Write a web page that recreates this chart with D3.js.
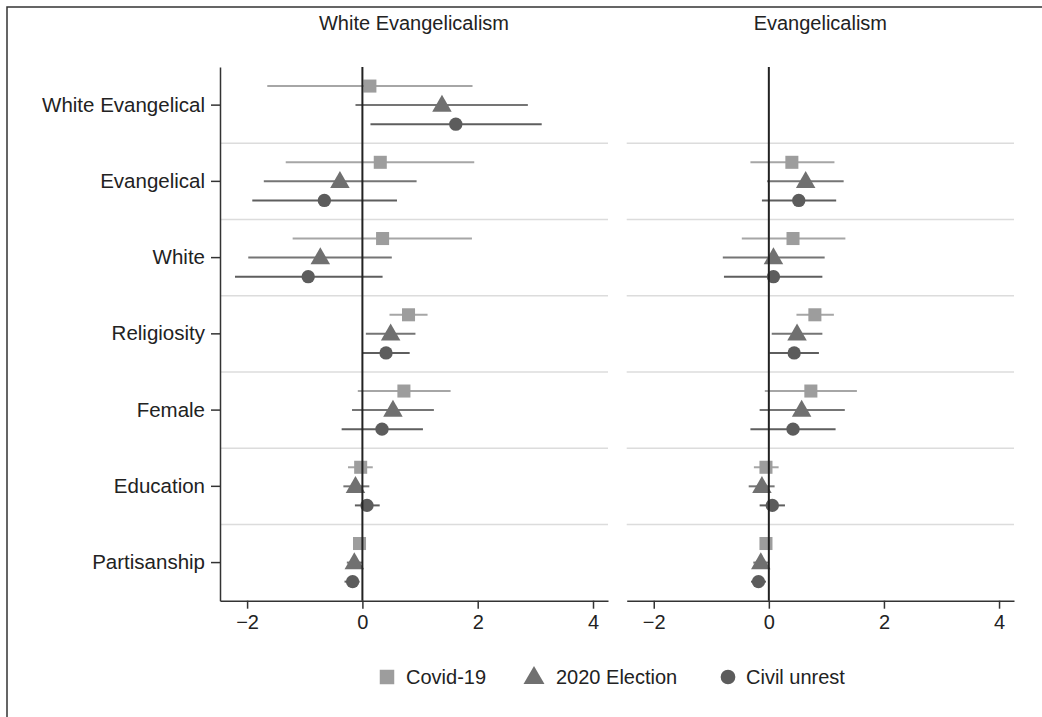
<!DOCTYPE html>
<html>
<head>
<meta charset="utf-8">
<script src="https://cdn.jsdelivr.net/npm/d3@7"></script>
<style>
  html, body { margin: 0; padding: 0; background: #fff; }
  svg { display: block; }
  text { font-family: "Liberation Sans", Arial, sans-serif; fill: #222; }
</style>
</head>
<body>
<svg id="chart" width="1042" height="717"></svg>
<script>
// Coefficient estimates with 95% intervals: [estimate, lower, upper]
const categories = ["White Evangelical", "Evangelical", "White", "Religiosity", "Female", "Education", "Partisanship"];
const seriesNames = ["Covid-19", "2020 Election", "Civil unrest"];
const panelTitles = ["White Evangelicalism", "Evangelicalism"];
const tickValues = [-2, 0, 2, 4];
const tickLabels = ["\u22122", "0", "2", "4"];

// Panel 1: White Evangelicalism
const weCovid = [[0.13, -1.65, 1.91], [0.31, -1.33, 1.94], [0.35, -1.21, 1.90], [0.80, 0.47, 1.13], [0.72, -0.08, 1.53], [-0.03, -0.25, 0.18], [-0.05, -0.14, 0.04]];
const weElection = [[1.38, -0.12, 2.87], [-0.39, -1.71, 0.94], [-0.73, -1.98, 0.51], [0.49, 0.06, 0.92], [0.53, -0.18, 1.24], [-0.12, -0.33, 0.12], [-0.14, -0.27, 0.00]];
const weUnrest = [[1.62, 0.14, 3.11], [-0.66, -1.91, 0.60], [-0.94, -2.21, 0.35], [0.41, 0.00, 0.82], [0.34, -0.36, 1.05], [0.08, -0.13, 0.30], [-0.17, -0.31, -0.05]];

// Panel 2: Evangelicalism (no White Evangelical term)
const evCovid = [null, [0.40, -0.32, 1.14], [0.42, -0.47, 1.33], [0.80, 0.48, 1.13], [0.73, -0.07, 1.53], [-0.05, -0.26, 0.17], [-0.05, -0.14, 0.05]];
const evElection = [null, [0.64, -0.03, 1.30], [0.08, -0.80, 0.97], [0.49, 0.05, 0.93], [0.57, -0.16, 1.32], [-0.12, -0.35, 0.10], [-0.14, -0.27, -0.01]];
const evUnrest = [null, [0.52, -0.12, 1.17], [0.08, -0.78, 0.93], [0.44, 0.01, 0.87], [0.42, -0.32, 1.16], [0.06, -0.16, 0.28], [-0.18, -0.31, -0.05]];

const panelData = [[weCovid, weElection, weUnrest], [evCovid, evElection, evUnrest]];

const markerFill = ["#9d9d9d", "#707070", "#5c5c5c"];
const lineColor = ["#a6a6a6", "#757575", "#5e5e5e"];
const markerType = [d3.symbolSquare, d3.symbolTriangle, d3.symbolCircle];
const markerSize = [170, 165, 140];
const offsets = [-0.25, 0, 0.25];

const svg = d3.select("#chart");

// frame
svg.append("path")
  .attr("d", "M7,717 V7 H1042")
  .attr("fill", "none").attr("stroke", "#333").attr("stroke-width", 1.5);

const plotTop = 67, plotBottom = 600.7;
const panelRanges = [[220, 608], [626.7, 1014]];
const xDomain = [-2.47, 4.26];

const y = d3.scaleBand().domain(categories).range([plotTop, plotBottom]).padding(0);
const bw = y.bandwidth();

panelRanges.forEach((range, p) => {
  const x = d3.scaleLinear().domain(xDomain).range(range);
  const g = svg.append("g");

  // horizontal separators between categories
  g.selectAll("line.sep").data(categories.slice(1)).join("line")
    .attr("class", "sep")
    .attr("x1", range[0]).attr("x2", range[1])
    .attr("y1", d => y(d)).attr("y2", d => y(d))
    .attr("stroke", "#dcdcdc").attr("stroke-width", 1.5);

  // x axis
  const xAxis = d3.axisBottom(x).tickValues(tickValues)
    .tickFormat((d, i) => tickLabels[i]).tickSizeInner(8).tickSizeOuter(0).tickPadding(6);
  const ax = g.append("g").attr("transform", `translate(0,${plotBottom})`).call(xAxis);
  ax.select(".domain").attr("stroke", "#333").attr("stroke-width", 1.5);
  ax.selectAll(".tick line").attr("stroke", "#333").attr("stroke-width", 1.5);
  ax.selectAll(".tick text").style("font-size", "20px").attr("fill", "#222")
    .style("font-family", "'Liberation Sans', Arial, sans-serif");

  // y axis on first panel only
  if (p === 0) {
    const yAxis = d3.axisLeft(y).tickSizeInner(9).tickSizeOuter(0).tickPadding(6);
    const ay = g.append("g").attr("transform", `translate(${range[0]},0)`).call(yAxis);
    ay.select(".domain").attr("stroke", "#333").attr("stroke-width", 1.5);
    ay.selectAll(".tick line").attr("stroke", "#333").attr("stroke-width", 1.5);
    ay.selectAll(".tick text").style("font-size", "20.5px").attr("fill", "#222")
      .style("font-family", "'Liberation Sans', Arial, sans-serif");
  }

  // panel title
  g.append("text")
    .attr("x", (range[0] + range[1]) / 2).attr("y", 30)
    .attr("text-anchor", "middle").style("font-size", "20px")
    .text(panelTitles[p]);

  // intervals and point estimates
  panelData[p].forEach((rows, s) => {
    const pts = rows.map((r, i) => r ? { cat: categories[i], est: r[0], lo: r[1], hi: r[2] } : null)
      .filter(d => d);
    const cy = d => y(d.cat) + bw / 2 + offsets[s] * bw;
    g.selectAll(null).data(pts).join("line")
      .attr("x1", d => x(d.lo)).attr("x2", d => x(d.hi))
      .attr("y1", cy).attr("y2", cy)
      .attr("stroke", lineColor[s]).attr("stroke-width", 2);
    g.selectAll(null).data(pts).join("path")
      .attr("d", d3.symbol().type(markerType[s]).size(markerSize[s]))
      .attr("transform", d => `translate(${x(d.est)},${cy(d) + (s === 1 ? 1 : 0)})`)
      .attr("fill", markerFill[s]);
  });

  // reference line at zero
  g.append("line")
    .attr("x1", x(0)).attr("x2", x(0)).attr("y1", plotTop).attr("y2", plotBottom)
    .attr("stroke", "#222").attr("stroke-width", 2);
});

// legend
const legendItems = [
  { x: 387, tx: 406 },
  { x: 534, tx: 556 },
  { x: 728, tx: 746 }
];
const lg = svg.append("g");
seriesNames.forEach((name, s) => {
  lg.append("path")
    .attr("d", d3.symbol().type(markerType[s]).size([210, 190, 170][s]))
    .attr("transform", `translate(${legendItems[s].x},${677 + (s === 1 ? 1 : 0)})`)
    .attr("fill", markerFill[s]);
  lg.append("text")
    .attr("x", legendItems[s].tx).attr("y", 677).attr("dy", "0.35em")
    .style("font-size", "20px").text(name);
});
</script>
</body>
</html>
